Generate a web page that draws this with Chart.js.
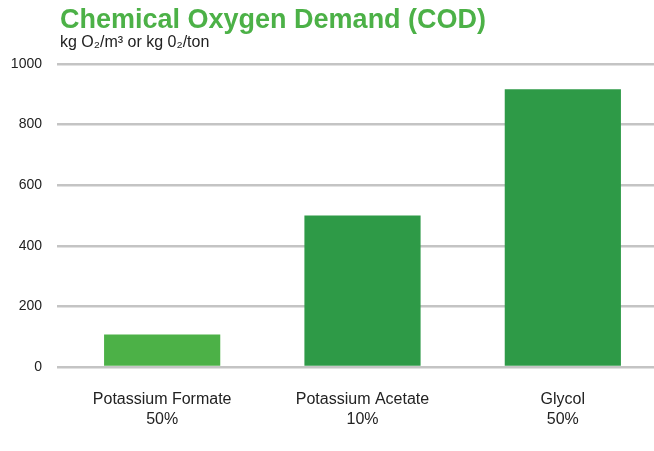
<!DOCTYPE html>
<html>
<head>
<meta charset="utf-8">
<script src="https://cdn.jsdelivr.net/npm/chart.js@4/dist/chart.umd.min.js"></script>
<style>
  html, body { margin: 0; padding: 0; background: #fff; overflow: hidden; }
  /* canvas is a little wider than the window so the grid runs off the right edge */
  #wrap { width: 663px; height: 451px; position: relative; }
</style>
</head>
<body>
<div id="wrap"><canvas id="codChart"></canvas></div>
<script>
// chart data
const categories = [['Potassium Formate', '50%'], ['Potassium Acetate', '10%'], ['Glycol', '50%']];
const codValues = [107, 500, 917];
const barColors = ['#4cb147', '#2e9a47', '#2e9a47'];
const yTicks = [0, 200, 400, 600, 800, 1000];

const titleText = 'Chemical Oxygen Demand (COD)';
const subtitleText = 'kg O\u2082/m\u00b3 or kg 0\u2082/ton';

// draws the heading text in the top-left corner
const headingPlugin = {
  id: 'heading',
  afterDraw(chart) {
    const c = chart.ctx;
    c.save();
    c.textAlign = 'left';
    c.textBaseline = 'alphabetic';
    c.fillStyle = '#4cb147';
    c.font = 'bold 27px "Liberation Sans", Arial, sans-serif';
    c.fillText(titleText, 60, 28);
    c.fillStyle = '#222';
    c.font = '16px "Liberation Sans", Arial, sans-serif';
    c.fillText(subtitleText, 60, 47);
    c.restore();
  }
};

const ctx = document.getElementById('codChart').getContext('2d');
const chart = new Chart(ctx, {
  type: 'bar',
  data: {
    labels: categories,
    datasets: [{
      data: codValues,
      backgroundColor: barColors,
      borderWidth: 0,
      barPercentage: 0.58,
      categoryPercentage: 1.0
    }]
  },
  options: {
    responsive: true,
    maintainAspectRatio: false,
    animation: false,
    layout: { padding: { top: 64, right: 0, bottom: 0, left: 0 } },
    plugins: {
      legend: { display: false },
      tooltip: { enabled: false }
    },
    scales: {
      x: {
        grid: { display: false },
        border: { display: false },
        ticks: {
          color: '#222',
          font: { family: '"Liberation Sans", Arial, sans-serif', size: 16, lineHeight: 1.25 },
          padding: 15,
          maxRotation: 0,
          autoSkip: false
        },
        afterFit(scale) { scale.height = 84; }
      },
      y: {
        min: 0,
        max: 1000,
        afterBuildTicks(scale) { scale.ticks = yTicks.map(v => ({ value: v })); },
        grid: { color: '#c4c4c4', lineWidth: 2.5, drawTicks: true, tickLength: 5 },
        border: { display: false },
        ticks: {
          color: '#222',
          font: { family: '"Liberation Sans", Arial, sans-serif', size: 14 },
          padding: 15,
          callback: v => String(v)
        },
        afterFit(scale) { scale.width = 62; }
      }
    }
  },
  plugins: [headingPlugin]
});
</script>
</body>
</html>
